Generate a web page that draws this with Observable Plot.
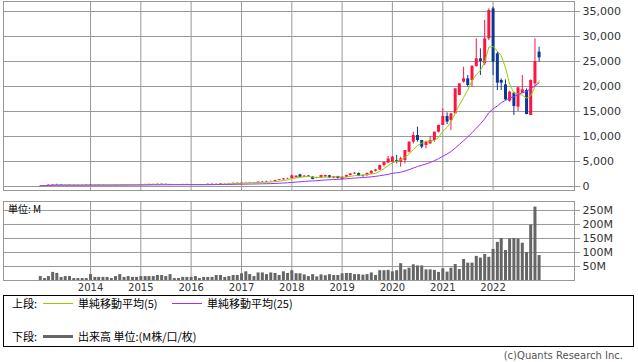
<!DOCTYPE html>
<html><head><meta charset="utf-8">
<script src="https://cdn.jsdelivr.net/npm/d3@7"></script>
<script src="https://cdn.jsdelivr.net/npm/@observablehq/plot@0.6"></script>
<style>
body{margin:0;background:#fff;}
#wrap{position:relative;width:638px;height:362px;overflow:hidden;font-family:"DejaVu Sans",sans-serif;}
#wrap svg{position:absolute;left:0;overflow:visible;}
.lg{position:absolute;font-family:"Noto Sans CJK JP",sans-serif;font-size:11px;color:#000;line-height:12px;white-space:nowrap;}
.sw{position:absolute;}
</style></head><body><div id="wrap"></div>
<script>
const months = [
"2013-01","2013-02","2013-03","2013-04","2013-05","2013-06","2013-07","2013-08","2013-09","2013-10","2013-11","2013-12",
"2014-01","2014-02","2014-03","2014-04","2014-05","2014-06","2014-07","2014-08","2014-09","2014-10","2014-11","2014-12",
"2015-01","2015-02","2015-03","2015-04","2015-05","2015-06","2015-07","2015-08","2015-09","2015-10","2015-11","2015-12",
"2016-01","2016-02","2016-03","2016-04","2016-05","2016-06","2016-07","2016-08","2016-09","2016-10","2016-11","2016-12",
"2017-01","2017-02","2017-03","2017-04","2017-05","2017-06","2017-07","2017-08","2017-09","2017-10","2017-11","2017-12",
"2018-01","2018-02","2018-03","2018-04","2018-05","2018-06","2018-07","2018-08","2018-09","2018-10","2018-11","2018-12",
"2019-01","2019-02","2019-03","2019-04","2019-05","2019-06","2019-07","2019-08","2019-09","2019-10","2019-11","2019-12",
"2020-01","2020-02","2020-03","2020-04","2020-05","2020-06","2020-07","2020-08","2020-09","2020-10","2020-11","2020-12",
"2021-01","2021-02","2021-03","2021-04","2021-05","2021-06","2021-07","2021-08","2021-09","2021-10","2021-11","2021-12",
"2022-01","2022-02","2022-03","2022-04","2022-05","2022-06","2022-07","2022-08","2022-09","2022-10","2022-11","2022-12"];

const open = [
170,140,180,280,380,320,250,270,220,270,300,290,
350,280,300,260,290,310,330,300,330,360,320,350,
370,390,420,400,430,470,430,400,360,380,400,410,
390,350,330,360,380,440,400,450,560,540,600,650,
700,780,800,760,800,880,850,950,1000,1200,1350,1500,
1550,1750,2330,1870,2070,1870,1780,1700,1900,2150,1700,2000,
1400,1850,2200,2500,2600,2200,2150,2550,3050,3300,4200,4700,
4870,5200,4870,5200,6870,8870,10200,9200,8200,8530,9200,10870,
12200,14000,13200,14530,18200,20870,21530,21200,24000,25530,24530,29530,
35530,26530,21200,20330,17070,18670,15870,18670,19200,14200,20530,26870];

const high = [
190,200,300,420,450,340,300,290,290,330,360,380,
380,330,320,300,320,340,350,340,370,370,360,390,
400,430,440,440,520,490,450,420,390,410,430,430,
400,370,380,400,500,480,460,600,590,620,680,720,
800,850,830,820,920,1000,1050,1100,1250,1400,1600,1650,
2250,2200,2450,2150,2200,1950,1850,2250,2250,2200,2000,2050,
1900,2250,2600,2750,2700,2300,2700,3100,3400,4300,4900,6000,
6000,6200,5870,7200,8900,10870,11870,9200,9070,10000,10870,12300,
15530,14730,14670,19530,20530,23870,22200,24200,29530,27530,33200,35530,
35870,26870,21530,21330,19070,18870,19870,22200,19530,21330,29530,27870];

const low = [
120,130,170,260,270,220,230,200,210,250,270,280,
250,250,240,240,270,290,280,290,310,290,310,330,
350,370,390,380,420,420,380,330,330,360,380,370,
320,300,320,340,370,380,390,440,500,520,560,620,
680,720,720,720,780,820,830,900,980,1150,1250,1400,
1500,1600,1800,1800,1850,1350,1550,1650,1850,1600,1550,1500,
1300,1750,2100,2400,1950,1850,2100,2400,2900,3200,3900,4550,
4700,4530,3870,4530,6700,8530,8870,7530,7530,8400,8870,10700,
12200,12400,11200,14530,18200,20670,19870,19870,23870,22200,24200,29200,
22200,19200,19200,17200,16870,14200,15000,18530,14330,14200,19870,24870];

const close = [
140,180,280,380,320,250,270,220,270,300,290,350,
280,300,260,290,310,330,300,330,360,320,350,370,
390,420,400,430,470,430,400,360,380,400,410,390,
350,330,360,380,440,400,450,560,540,600,650,700,
780,800,760,800,880,850,950,1000,1200,1350,1500,1550,
2150,2050,1870,2070,1950,1400,1700,2200,2200,1730,1950,1600,
1850,2200,2500,2650,2050,2100,2600,3050,3300,4200,4800,5500,
5870,4930,5530,7200,8870,10200,9200,7870,8870,9200,10870,12200,
14000,12870,14530,19530,20530,21530,20200,24000,25530,25000,29530,35200,
24870,20670,20670,17330,18870,16000,19730,19330,14400,21200,25000,25730];

const volume = [
14,7,14,29,25,11,14,14,7,7,7,7,
21,11,11,11,11,7,14,21,11,14,11,11,
14,14,14,14,18,18,14,21,7,7,11,11,
11,14,7,11,11,11,18,18,11,14,18,18,
24,31,21,14,27,27,21,27,25,18,31,25,
35,24,24,20,14,21,13,20,17,21,18,18,
24,25,25,21,21,19,21,27,18,35,35,36,
31,35,60,38,44,56,52,52,38,38,36,29,
42,30,44,57,39,75,62,62,86,80,93,83,
111,136,150,107,148,150,148,133,100,198,262,89];

const priceTicks = [0,5000,10000,15000,20000,25000,30000,35000];
const volumeTicks = [50,100,150,200,250];
const yearTicks = ["2014-01-01","2015-01-01","2016-01-01","2017-01-01","2018-01-01","2019-01-01","2020-01-01","2021-01-01","2022-01-01"];
const xDomain = ["2012-04-09","2023-08-15"];

const upColor = "#ff1440", downColor = "#0a3896";
const ma5Color = "#99cc00", ma25Color = "#9933ff", volColor = "#666666", gridColor = "#999999";

const data = months.map((m, i) => ({date: new Date(m + "-01"), open: open[i], high: high[i], low: low[i], close: close[i], volume: volume[i]}));
const ups = data.filter(d => d.close >= d.open);
const downs = data.filter(d => d.close < d.open);
const years = yearTicks.map(d => new Date(d));
const dom = xDomain.map(d => new Date(d));

const wrap = document.getElementById("wrap");

const topPlot = Plot.plot({
  width: 638, height: 192, marginLeft: 3, marginRight: 64, marginTop: 1, marginBottom: 2,
  style: {fontFamily: "DejaVu Sans", fontSize: "11px", color: "#333", background: "transparent"},
  x: {type: "utc", domain: dom, axis: null},
  y: {domain: [-800, 37000], axis: "right", ticks: priceTicks, tickFormat: d3.format(","), tickSize: 5, tickPadding: 3, label: null},
  marks: [
    Plot.ruleY(priceTicks, {stroke: gridColor}),
    Plot.ruleX(years, {stroke: gridColor}),
    Plot.frame({stroke: gridColor}),
    Plot.ruleX(ups, {x: "date", y1: "low", y2: "high", stroke: upColor}),
    Plot.ruleX(downs, {x: "date", y1: "low", y2: "high", stroke: downColor}),
    Plot.ruleX(ups, {x: "date", y1: "open", y2: "close", stroke: upColor, strokeWidth: 3}),
    Plot.ruleX(downs, {x: "date", y1: "open", y2: "close", stroke: downColor, strokeWidth: 3}),
    Plot.lineY(data, Plot.windowY({k: 5, anchor: "end"}, {x: "date", y: "close", stroke: ma5Color, strokeWidth: 1})),
    Plot.lineY(data, Plot.windowY({k: 25, anchor: "end"}, {x: "date", y: "close", stroke: ma25Color, strokeWidth: 1}))
  ]
});
topPlot.style.top = "0px";
wrap.appendChild(topPlot);

const volPlot = Plot.plot({
  width: 638, height: 100, marginLeft: 3, marginRight: 64, marginTop: 5, marginBottom: 16,
  style: {fontFamily: "DejaVu Sans", fontSize: "11px", color: "#333", background: "transparent"},
  x: {type: "utc", domain: dom, ticks: years, tickFormat: d3.utcFormat("%Y"), tickSize: 0, tickPadding: 3, label: null},
  y: {domain: [0, 282], axis: "right", ticks: volumeTicks, tickFormat: d => d + "M", tickSize: 5, tickPadding: 3, label: null},
  marks: [
    Plot.ruleY(volumeTicks, {stroke: gridColor}),
    Plot.ruleX(years, {stroke: gridColor}),
    Plot.frame({stroke: gridColor}),
    Plot.ruleX(data, {x: "date", y: "volume", stroke: volColor, strokeWidth: 3})
  ]
});
volPlot.style.top = "196px";
wrap.appendChild(volPlot);
volPlot.querySelectorAll('g[aria-label^="x-axis"] text').forEach(t => t.setAttribute("font-size", "10px"));
wrap.querySelectorAll('g[aria-label^="y-axis"] path, g[aria-label^="y-axis"] line').forEach(p => p.setAttribute("stroke", gridColor));

function addDiv(cls, css, text) {
  const d = document.createElement("div");
  d.className = cls;
  d.style.cssText = css;
  if (text != null) d.textContent = text;
  wrap.appendChild(d);
  return d;
}
addDiv("lg", "left:8px;top:203px;font-size:10px;", "単位: M");
addDiv("sw", "left:3px;top:295px;width:631px;height:52px;border:1px solid #000;box-sizing:border-box;");
addDiv("lg", "left:12px;top:297px;", "上段:");
addDiv("sw", "left:43px;top:303px;width:30px;height:1px;background:" + ma5Color + ";");
addDiv("lg", "left:78px;top:297px;", "単純移動平均(5)");
addDiv("sw", "left:172px;top:303px;width:30px;height:1px;background:" + ma25Color + ";");
addDiv("lg", "left:207px;top:297px;", "単純移動平均(25)");
addDiv("lg", "left:12px;top:330px;", "下段:");
addDiv("sw", "left:43px;top:335px;width:30px;height:3px;background:" + volColor + ";");
addDiv("lg", "left:78px;top:330px;", "出来高 単位:(M株/口/枚)");
addDiv("lg", "right:15px;top:350px;font-size:10px;font-family:'DejaVu Sans',sans-serif;color:#555;", "(c)Quants Research Inc.");
</script></body></html>
